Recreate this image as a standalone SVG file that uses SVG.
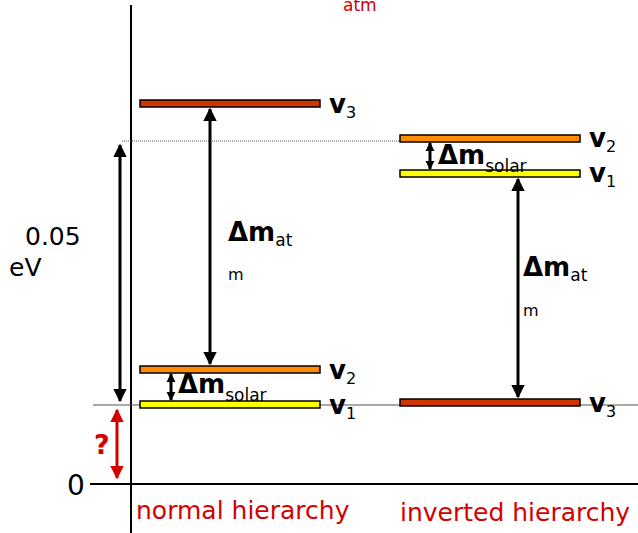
<svg xmlns="http://www.w3.org/2000/svg" width="638" height="533" viewBox="0 0 638 533">
<defs>
<marker id="ah" viewBox="0 0 10 10" refX="9" refY="5" markerWidth="4.5" markerHeight="4.5" orient="auto-start-reverse"><path d="M0,0 L10,5 L0,10 z" fill="#000"/></marker>
<marker id="ahs" viewBox="0 0 10 10" refX="9" refY="5" markerWidth="3" markerHeight="3.2" orient="auto-start-reverse"><path d="M0,0 L10,5 L0,10 z" fill="#000"/></marker>
<marker id="ahr" viewBox="0 0 10 10" refX="9" refY="5" markerWidth="4.5" markerHeight="4.5" orient="auto-start-reverse"><path d="M0,0 L10,5 L0,10 z" fill="#d40000"/></marker>
</defs>
<style>
text{font-family:"DejaVu Sans",sans-serif}
.lv{font-weight:bold;font-size:26px;fill:#000}
.sub{font-size:16px;font-weight:normal}
.bar{stroke:#000;stroke-width:1.5}
.red{fill:#d03500}
.orange{fill:#ff8c00}
.yellow{fill:#ffff00}
.dm{font-weight:bold;font-size:26px}
.dms{font-size:17px;font-weight:normal}
.lab{font-size:25px;fill:#d40000}
.arr{stroke:#000;stroke-width:3;fill:none}
</style>
<rect width="638" height="533" fill="#fff"/>
<g id="axes">
<line x1="131" y1="5" x2="131" y2="533" stroke="#000" stroke-width="2"/>
<line x1="90" y1="484" x2="638" y2="484" stroke="#000" stroke-width="2"/>
<line x1="93" y1="405" x2="638" y2="405" stroke="#555" stroke-width="1.2"/>
<line x1="122" y1="141" x2="400" y2="141" stroke="#555" stroke-width="1" stroke-dasharray="1,1"/>
</g>
<g id="labels">
<text x="343" y="11" font-size="17" fill="#d40000">atm</text>
<text x="25" y="245" font-size="25">0.05</text>
<text x="9" y="276" font-size="25">eV</text>
<text x="67" y="495" font-size="28">0</text>
<text x="94" y="454" font-size="27" font-weight="bold" fill="#d40000">?</text>
<text x="136" y="519" class="lab">normal hierarchy</text>
<text x="400" y="521" class="lab">inverted hierarchy</text>
</g>
<g id="connectors">
<line x1="210" y1="109" x2="210" y2="364" class="arr" marker-start="url(#ah)" marker-end="url(#ah)"/>
<line x1="171" y1="374" x2="171" y2="400" class="arr" marker-start="url(#ahs)" marker-end="url(#ahs)"/>
<line x1="518" y1="179" x2="518" y2="397" class="arr" marker-start="url(#ah)" marker-end="url(#ah)"/>
<line x1="430" y1="143" x2="430" y2="169" class="arr" marker-start="url(#ahs)" marker-end="url(#ahs)"/>
<line x1="120" y1="145" x2="120" y2="401" class="arr" marker-start="url(#ah)" marker-end="url(#ah)"/>
<line x1="117" y1="410" x2="117" y2="478" stroke="#d40000" stroke-width="3" marker-start="url(#ahr)" marker-end="url(#ahr)"/>
</g>
<g id="n-v3-left">
<rect x="140" y="100" width="180" height="7" class="bar red"/>
<text x="329" y="113" class="lv">v<tspan class="sub" dy="5">3</tspan></text>
</g>
<g id="n-v2-left">
<rect x="140" y="366" width="180" height="7" class="bar orange"/>
<text x="329" y="379" class="lv">v<tspan class="sub" dy="5">2</tspan></text>
</g>
<g id="n-v1-left">
<rect x="140" y="401" width="180" height="7" class="bar yellow"/>
<text x="329" y="414" class="lv">v<tspan class="sub" dy="5">1</tspan></text>
</g>
<g id="n-v2-right">
<rect x="400" y="135" width="180" height="7" class="bar orange"/>
<text x="589" y="147" class="lv">v<tspan class="sub" dy="5">2</tspan></text>
</g>
<g id="n-v1-right">
<rect x="400" y="170" width="180" height="7" class="bar yellow"/>
<text x="589" y="182" class="lv">v<tspan class="sub" dy="5">1</tspan></text>
</g>
<g id="n-v3-right">
<rect x="400" y="399" width="180" height="7" class="bar red"/>
<text x="589" y="412" class="lv">v<tspan class="sub" dy="5">3</tspan></text>
</g>
<g id="dm-labels">
<text x="228" y="241" class="dm">Δm<tspan class="dms" dy="5">at</tspan></text>
<text x="228" y="280" font-size="16">m</text>
<text x="523" y="276" class="dm">Δm<tspan class="dms" dy="5">at</tspan></text>
<text x="523" y="316" font-size="16">m</text>
<text x="178" y="393" class="dm">Δm<tspan class="dms" dy="8">solar</tspan></text>
<text x="438" y="164" class="dm">Δm<tspan class="dms" dy="8">solar</tspan></text>
</g>
</svg>
